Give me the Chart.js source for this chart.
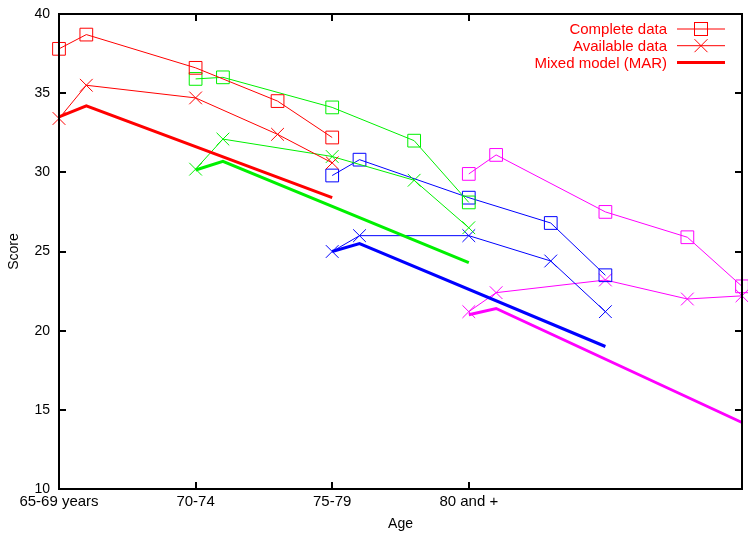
<!DOCTYPE html>
<html>
<head>
<meta charset="utf-8">
<title>Score by age</title>
<script src="https://cdn.jsdelivr.net/npm/chart.js@4/dist/chart.umd.min.js"></script>
<style>
  html, body { margin: 0; padding: 0; background: #fff; }
  .chart { width: 748px; height: 533px; }
</style>
</head>
<body>
<div class="chart"><canvas id="chart"></canvas></div>
<script>
// ages (x) at which each cohort was observed
const ages6569 = [65, 66, 70, 73, 75]
const ages7074 = [70, 71, 75, 78, 80]
const ages7579 = [75, 76, 80, 83, 85]
const ages80 = [80, 81, 85, 88, 90]

// complete data
const complete6569 = [37.8, 38.7, 36.6, 34.5, 32.2]
const complete7074 = [35.9, 36.0, 34.1, 32.0, 28.1]
const complete7579 = [29.8, 30.8, 28.4, 26.8, 23.5]
const complete80 = [29.9, 31.1, 27.5, 25.9, 22.8]

// available data
const available6569 = [33.4, 35.5, 34.7, 32.4, 30.6]
const available7074 = [30.2, 32.1, 31.0, 29.5, 26.5]
const available7579 = [25.0, 26.0, 26.0, 24.4, 21.2]
const available80 = [21.2, 22.4, 23.2, 22.0, 22.2]

// mixed model (MAR)
const mixedAges6569 = [65, 66, 75]
const mixedAges7074 = [70, 71, 80]
const mixedAges7579 = [75, 76, 85]
const mixedAges80 = [80, 81, 90]
const mixed6569 = [33.5, 34.2, 28.4]
const mixed7074 = [30.15, 30.7, 24.3]
const mixed7579 = [25.0, 25.5, 19.0]
const mixed80 = [21.0, 21.4, 14.2]

const xTickValues = [65, 70, 75, 80]
const xTickLabels = ["65-69 years", "70-74", "75-79", "80 and +"]
const legendLabels = ["Complete data", "Available data", "Mixed model (MAR)"]

const FONT = "'Liberation Sans', Arial, Helvetica, sans-serif"
const RED = "#ff0000"
const GREEN = "#00f000"
const BLUE = "#0000ff"
const MAGENTA = "#ff00ff"

const makeSet = (ages, values, color, kind) => ({
  data: ages.map((x, i) => ({ x: x, y: values[i] })),
  borderColor: color,
  borderWidth: kind === "mixed" ? 3 : 1,
  pointStyle: kind === "complete" ? "rect" : "crossRot",
  pointRadius: kind === "mixed" ? 0 : 9,
  pointBorderColor: color,
  pointBackgroundColor: "rgba(0,0,0,0)",
  pointBorderWidth: 1,
  tension: 0,
  fill: false,
  clip: false,
})

// gnuplot style frame with inward ticks on all four sides
const framePlugin = {
  id: "frame",
  afterDatasetsDraw(chart) {
    const { ctx, chartArea: a, scales } = chart
    ctx.save()
    ctx.strokeStyle = "#000"
    ctx.lineWidth = 2
    ctx.strokeRect(a.left, a.top, a.right - a.left, a.bottom - a.top)
    ctx.beginPath()
    scales.y.ticks.forEach((t) => {
      const y = Math.round(scales.y.getPixelForValue(t.value))
      ctx.moveTo(a.left, y)
      ctx.lineTo(a.left + 7, y)
      ctx.moveTo(a.right, y)
      ctx.lineTo(a.right - 7, y)
    })
    xTickValues.forEach((v) => {
      const x = Math.round(scales.x.getPixelForValue(v))
      ctx.moveTo(x, a.bottom)
      ctx.lineTo(x, a.bottom - 7)
      ctx.moveTo(x, a.top)
      ctx.lineTo(x, a.top + 7)
    })
    ctx.stroke()
    ctx.restore()
  },
}

// legend: text on the left, sample on the right, like gnuplot's key
const keyPlugin = {
  id: "gnuKey",
  afterDraw(chart) {
    const { ctx, chartArea: a } = chart
    const x1 = a.right - 65
    const x2 = a.right - 17
    const xm = (x1 + x2) / 2
    ctx.save()
    ctx.font = "15px " + FONT
    ctx.textAlign = "right"
    ctx.textBaseline = "middle"
    legendLabels.forEach((label, i) => {
      const y = a.top + 15 + i * 16.7
      ctx.fillStyle = RED
      ctx.fillText(label, x1 - 10, y + 1)
      ctx.strokeStyle = RED
      ctx.lineWidth = i === 2 ? 3 : 1
      ctx.beginPath()
      ctx.moveTo(x1, y)
      ctx.lineTo(x2, y)
      ctx.stroke()
      ctx.lineWidth = 1
      if (i === 0) {
        ctx.strokeRect(xm - 6.5, y - 6.5, 13, 13)
      } else if (i === 1) {
        ctx.beginPath()
        ctx.moveTo(xm - 6.5, y - 6.5)
        ctx.lineTo(xm + 6.5, y + 6.5)
        ctx.moveTo(xm + 6.5, y - 6.5)
        ctx.lineTo(xm - 6.5, y + 6.5)
        ctx.stroke()
      }
    })
    ctx.restore()
  },
}

const createChart = (ctx) => {
  const datasets = [
    makeSet(ages6569, complete6569, RED, "complete"),
    makeSet(ages6569, available6569, RED, "available"),
    makeSet(mixedAges6569, mixed6569, RED, "mixed"),
    makeSet(ages7074, complete7074, GREEN, "complete"),
    makeSet(ages7074, available7074, GREEN, "available"),
    makeSet(mixedAges7074, mixed7074, GREEN, "mixed"),
    makeSet(ages7579, complete7579, BLUE, "complete"),
    makeSet(ages7579, available7579, BLUE, "available"),
    makeSet(mixedAges7579, mixed7579, BLUE, "mixed"),
    makeSet(ages80, complete80, MAGENTA, "complete"),
    makeSet(ages80, available80, MAGENTA, "available"),
    makeSet(mixedAges80, mixed80, MAGENTA, "mixed"),
  ]

  const options = {
    responsive: true,
    maintainAspectRatio: false,
    animation: false,
    layout: {
      autoPadding: false,
      padding: { top: 14, right: 6, left: 0, bottom: 0 },
    },
    plugins: {
      legend: { display: false },
      tooltip: { enabled: false },
    },
    scales: {
      x: {
        type: "linear",
        min: 65,
        max: 90,
        grid: { display: false, drawTicks: false },
        border: { display: false },
        afterBuildTicks: (scale) => {
          scale.ticks = xTickValues.map((v) => ({ value: v }))
        },
        afterFit: (scale) => {
          scale.height = 44
        },
        ticks: {
          autoSkip: false,
          maxRotation: 0,
          padding: 4,
          color: "#000",
          font: { family: FONT, size: 15 },
          callback: (value) => xTickLabels[xTickValues.indexOf(value)] || "",
        },
        title: {
          display: true,
          text: "Age",
          color: "#000",
          font: { family: FONT, size: 14 },
          padding: 0,
        },
      },
      y: {
        min: 10,
        max: 40,
        // invisible tick marks keep the labels off the frame
        grid: {
          color: "rgba(0,0,0,0)",
          drawOnChartArea: false,
          drawTicks: true,
          tickLength: 9,
        },
        border: { display: false },
        afterFit: (scale) => {
          scale.width = 59
        },
        ticks: {
          stepSize: 5,
          padding: 0,
          color: "#000",
          font: { family: FONT, size: 14 },
        },
        title: {
          display: true,
          text: "Score",
          color: "#000",
          font: { family: FONT, size: 14 },
          padding: { top: 6, bottom: 0 },
        },
      },
    },
  }

  return new Chart(ctx, {
    type: "line",
    data: { datasets: datasets },
    options: options,
    plugins: [framePlugin, keyPlugin],
  })
}

document.addEventListener("DOMContentLoaded", () => {
  const canvas = document.getElementById("chart")
  createChart(canvas.getContext("2d"))
})
</script>
</body>
</html>
